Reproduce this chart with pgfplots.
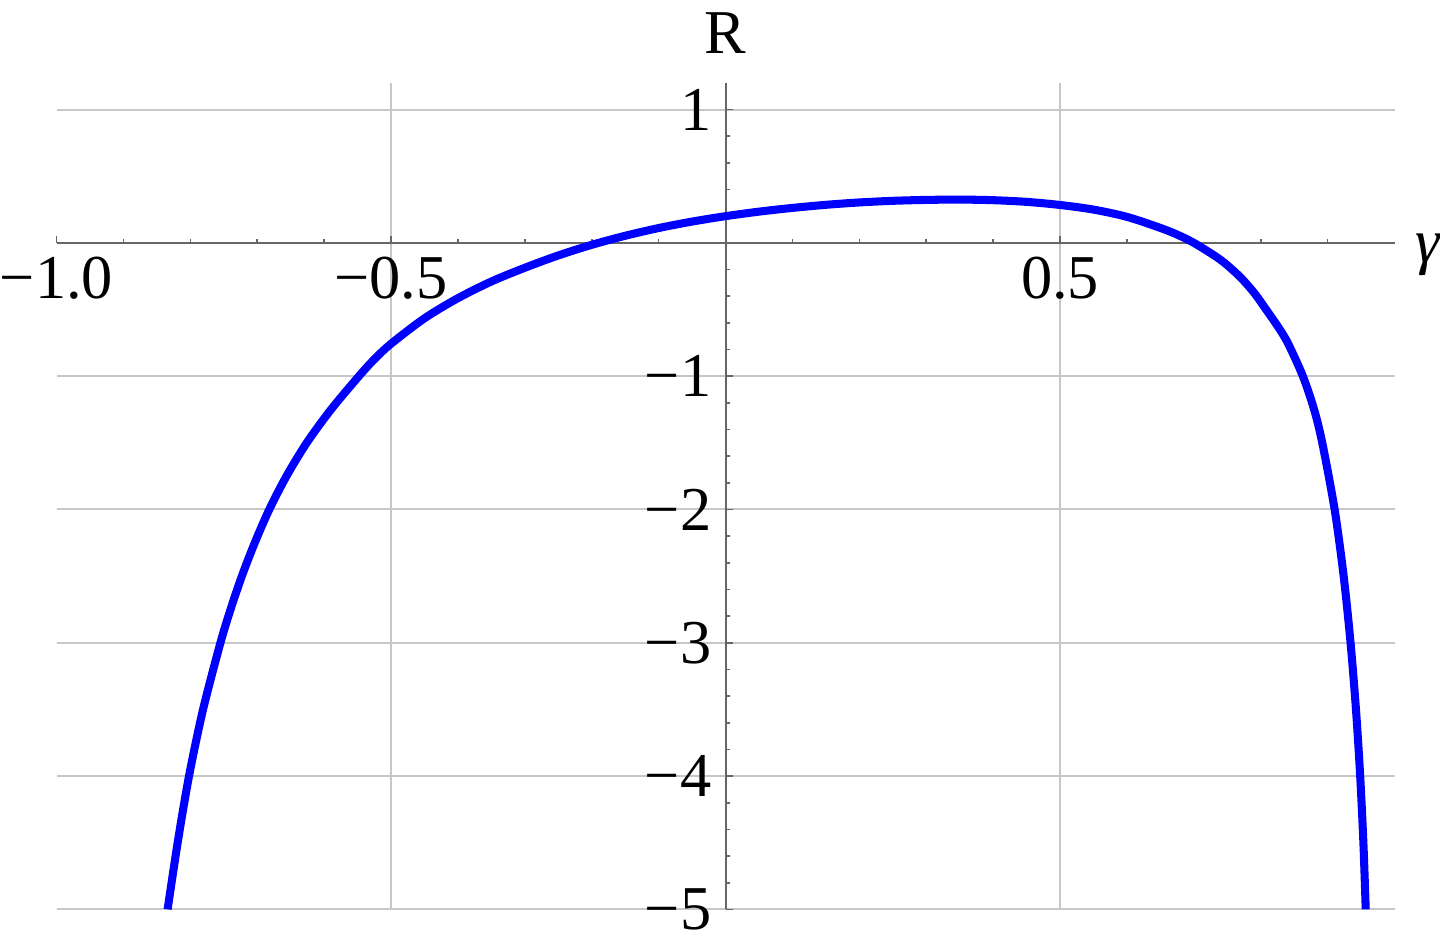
\documentclass[border=0pt]{standalone}
\usepackage{fontspec}
\setmainfont{Liberation Serif}
\usepackage{pgfplots}
\pgfplotsset{compat=1.18}

\begin{document}
\begin{tikzpicture}
\begin{axis}[
  scale only axis,
  width=332.5pt, height=205.4pt,
  xmin=-1, xmax=1, ymin=-5, ymax=1.2,
  axis lines=middle,
  axis line style={black!60, line width=0.5pt, -},
  every inner x axis line/.append style={-},
  every inner y axis line/.append style={-},
  xtick={-0.5,0.5}, xticklabels={−0.5,0.5},
  extra x ticks={-1}, extra x tick labels={−1.0},
  extra x tick style={xmajorgrids=false},
  minor xtick={-0.9,-0.8,-0.7,-0.6,-0.4,-0.3,-0.2,-0.1,0.1,0.2,0.3,0.4,0.6,0.7,0.8,0.9},
  ytick={-5,-4,-3,-2,-1,1}, yticklabels={−5,−4,−3,−2,−1,1},
  minor ytick={-4.8,-4.6,-4.4,-4.2,-3.8,-3.6,-3.4,-3.2,-2.8,-2.6,-2.4,-2.2,-1.8,-1.6,-1.4,-1.2,-0.8,-0.6,-0.4,-0.2,0.2,0.4,0.6,0.8},
  xmajorgrids, ymajorgrids,
  major grid style={black!22, line width=0.5pt},
  tick align=inside,
  major tick length=1.75pt, minor tick length=1pt,
  every tick/.style={black!60, line width=0.4pt},
  tick label style={font=\fontsize{15.5}{18}\selectfont},
  xticklabel style={inner xsep=0pt},
  xlabel={\itshape γ}, ylabel={R},
  every axis x label/.style={at={(axis cs:1,0)}, anchor=base west, inner sep=0pt,
    xshift=5pt, yshift=-5pt, font=\fontsize{15.5}{18}\selectfont},
  every axis y label/.style={at={(axis cs:0,1.2)}, anchor=base, inner sep=0pt,
    yshift=7.2pt, font=\fontsize{15.5}{18}\selectfont},
]
\addplot[blue, line width=2pt, smooth] coordinates {
(-0.834,-5) (-0.819,-4.5) (-0.802,-4) (-0.781,-3.5) (-0.755,-3)
(-0.7399,-2.75) (-0.723,-2.5) (-0.7037,-2.25) (-0.682,-2) (-0.6563,-1.75)
(-0.626,-1.5) (-0.5897,-1.25) (-0.548,-1) (-0.5253,-0.875) (-0.5,-0.757)
(-0.45,-0.566) (-0.4,-0.415) (-0.35,-0.290) (-0.3,-0.187) (-0.25,-0.0946)
(-0.2,-0.015) (-0.15,0.053) (-0.1,0.111) (-0.05,0.1595) (0,0.2)
(0.05,0.234) (0.1,0.262) (0.15,0.2852) (0.2,0.303) (0.25,0.3152)
(0.3,0.322) (0.35,0.3244) (0.4,0.320) (0.45,0.3074) (0.5,0.284)
(0.55,0.2494) (0.6,0.195) (0.65,0.112) (0.675,0.0619) (0.7,0)
(0.7393,-0.125) (0.768,-0.25) (0.7902,-0.375) (0.808,-0.5) (0.8253,-0.625)
(0.8404,-0.75) (0.863,-1) (0.8798,-1.25) (0.892,-1.5) (0.9105,-2)
(0.924,-2.5) (0.9343,-3) (0.9424,-3.5) (0.9487,-4) (0.9535,-4.5)
(0.957,-5)
};
\end{axis}
\path (current bounding box.north) ++(0,3.25pt);
\end{tikzpicture}
\end{document}
